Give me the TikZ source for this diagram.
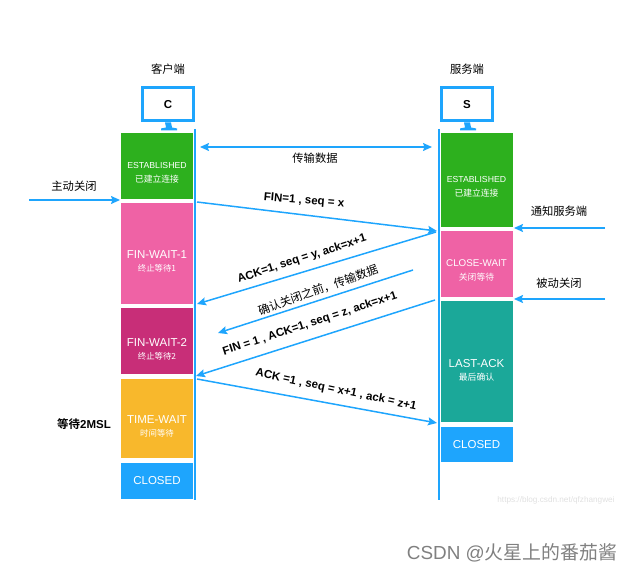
\documentclass[tikz,border=0pt]{standalone}
\usepackage{fontspec}
\setmainfont{Liberation Sans}
\newfontfamily\cjk{Noto Sans CJK SC}[BoldFont=* Bold]
\usetikzlibrary{arrows.meta}
\definecolor{tcpblue}{HTML}{1EA5FD}
\definecolor{estgreen}{HTML}{2DB01E}
\definecolor{waitpink}{HTML}{EF62A5}
\definecolor{waitdark}{HTML}{C82E78}
\definecolor{timeyellow}{HTML}{F8B82C}
\definecolor{lastteal}{HTML}{1BA899}
\begin{document}
\begin{tikzpicture}[
    x=1pt, y=-1pt,
    state/.style={minimum width=72pt, inner sep=0pt, outer sep=0pt},
    statetext/.style={text=white, align=center, font=\fontsize{11.5}{14}\selectfont, inner sep=0pt},
    monitor/.style={draw=tcpblue, line width=3pt, fill=white, minimum width=51pt, minimum height=33pt, inner sep=0pt, font=\bfseries\fontsize{11.5}{13}\selectfont},
    arr/.style={-{Stealth[length=9pt, width=8pt, inset=1.5pt]}, draw=tcpblue, fill=tcpblue, line width=1.5pt},
    lifeline/.style={draw=tcpblue, line width=2pt},
    msg/.style={font=\bfseries\fontsize{11.5}{13}\selectfont, inner sep=0pt},
    side/.style={font=\cjk\fontsize{11.3}{13}\selectfont, inner sep=0pt, text height=9.5pt, text depth=1.5pt},
]
\useasboundingbox (0,0) rectangle (633,572);
% Hosts
\node[side] (clienttitle) at (168,70) {客户端};
\node[side] (servertitle) at (467,70) {服务端};
\node[monitor] (clientpc) at (168,104.5) {C};
\node[monitor] (serverpc) at (467,104.5) {S};
\fill[tcpblue] ([xshift=-3pt]clientpc.south) -- ([xshift=3pt]clientpc.south) -- ++(1,5) -- ++(5,1) -- ++(0,2) -- ++(-16,0) -- ++(0,-2) -- ++(5,-1) -- cycle;
\fill[tcpblue] ([xshift=-3pt]serverpc.south) -- ([xshift=3pt]serverpc.south) -- ++(1,5) -- ++(5,1) -- ++(0,2) -- ++(-16,0) -- ++(0,-2) -- ++(5,-1) -- cycle;
% Client states
\node[state, fill=estgreen, minimum height=66pt] (clientest) at (157,166) {};
\node[state, fill=waitpink, minimum height=101pt] (finwaita) at (157,253.5) {};
\node[state, fill=waitdark, minimum height=66pt] (finwaitb) at (157,341) {};
\node[state, fill=timeyellow, minimum height=79pt] (timewait) at (157,418.5) {};
\node[state, fill=tcpblue, minimum height=36pt] (clientclosed) at (157,481) {};
% Server states
\node[state, fill=estgreen, minimum height=94pt] (serverest) at (476.5,180) {};
\node[state, fill=waitpink, minimum height=66pt] (closewait) at (476.5,264) {};
\node[state, fill=lastteal, minimum height=121.5pt] (lastack) at (476.5,361.75) {};
\node[state, fill=tcpblue, minimum height=35pt] (serverclosed) at (476.5,444.5) {};
% State names
\node[statetext] (clientesttext) at (157,173) {{\fontsize{8.7}{13}\selectfont ESTABLISHED}\\{\cjk\fontsize{8.8}{13}\selectfont 已建立连接}};
\node[statetext] (finwaitatext) at (157,261.5) {FIN-WAIT-1\\[-1pt]{\cjk\fontsize{8.4}{12}\selectfont 终止等待1}};
\node[statetext] (finwaitbtext) at (157,349) {FIN-WAIT-2\\[-1pt]{\cjk\fontsize{8.4}{12}\selectfont 终止等待2}};
\node[statetext] (timewaittext) at (157,426) {TIME-WAIT\\[-1pt]{\cjk\fontsize{8.4}{12}\selectfont 时间等待}};
\node[statetext] (clientclosedtext) at (157,481) {CLOSED};
\node[statetext] (serveresttext) at (476.5,187) {{\fontsize{8.7}{13}\selectfont ESTABLISHED}\\{\cjk\fontsize{8.8}{13}\selectfont 已建立连接}};
\node[statetext] (closewaittext) at (476.5,270.5) {{\fontsize{9.8}{13}\selectfont CLOSE-WAIT}\\{\cjk\fontsize{8.8}{13}\selectfont 关闭等待}};
\node[statetext] (lastacktext) at (476.5,370) {LAST-ACK\\[-1pt]{\cjk\fontsize{8.8}{12}\selectfont 最后确认}};
\node[statetext] (serverclosedtext) at (476.5,444.5) {CLOSED};
% Lifelines
\coordinate (clienttop) at (194.8,129);
\coordinate (clientend) at (194.8,500);
\coordinate (servertop) at (439.3,129);
\coordinate (serverend) at (439.3,500);
\draw[lifeline] (clienttop) -- (clientend);
\draw[lifeline] (servertop) -- (serverend);
% Outside events
\coordinate (activefrom) at (29,200);
\coordinate (activeto) at (120,200);
\coordinate (notifyfrom) at (605,228);
\coordinate (notifyto) at (514,228);
\coordinate (passivefrom) at (605,299);
\coordinate (passiveto) at (514,299);
\draw[arr] (activefrom) -- (activeto);
\draw[arr] (notifyfrom) -- (notifyto);
\draw[arr] (passivefrom) -- (passiveto);
\node[side] (activelabel) at (74,187) {主动关闭};
\node[side] (notifylabel) at (559,212) {通知服务端};
\node[side] (passivelabel) at (559,284) {被动关闭};
\node[font=\bfseries\fontsize{11.5}{13}\selectfont, inner sep=0pt] (waitlabel) at (84,424) {{\cjk 等待}2MSL};
% Data transfer
\coordinate (dataleft) at (200,147);
\coordinate (dataright) at (432,147);
\draw[arr, {Stealth[length=9pt, width=8pt, inset=1.5pt]}-{Stealth[length=9pt, width=8pt, inset=1.5pt]}] (dataleft) -- (dataright);
\node[side] (datalabel) at (315,159) {传输数据};
% Messages
\coordinate (finfrom) at (197,202);
\coordinate (finto) at (437,231);
\coordinate (ackfrom) at (436,232);
\coordinate (ackto) at (197,304);
\coordinate (lastdatafrom) at (413,270);
\coordinate (lastdatato) at (218,333);
\coordinate (finbfrom) at (435,300);
\coordinate (finbto) at (196,376);
\coordinate (ackbfrom) at (197,379);
\coordinate (ackbto) at (437,423);
\draw[arr] (finfrom) -- (finto);
\draw[arr] (ackfrom) -- (ackto);
\draw[arr] (lastdatafrom) -- (lastdatato);
\draw[arr] (finbfrom) -- (finbto);
\draw[arr] (ackbfrom) -- (ackbto);
\node[msg, rotate=-5] (finlabel) at (304,201) {FIN=1 , seq = x};
\node[msg, rotate=18] (acklabel) at (302,259) {ACK=1, seq = y, ack=x+1};
\node[font=\cjk\fontsize{11.5}{13}\selectfont, inner sep=0pt, rotate=20] (lastdatalabel) at (318,290) {确认关闭之前，传输数据};
\node[msg, rotate=18] (finblabel) at (310,324) {FIN = 1 , ACK=1, seq = z, ack=x+1};
\node[msg, rotate=-12] (ackblabel) at (336,390) {ACK =1 , seq = x+1 , ack = z+1};
% Watermarks
\node[text=black!12, font=\fontsize{8.2}{9}\selectfont, inner sep=0pt] (blogmark) at (556,500) {https://blog.csdn.net/qfzhangwei};
\node[text=black!50, font=\fontsize{18.9}{21}\selectfont, inner sep=0pt] (csdnmark) at (512,553) {CSDN @{\cjk 火星上的番茄酱}};
\end{tikzpicture}
\end{document}
